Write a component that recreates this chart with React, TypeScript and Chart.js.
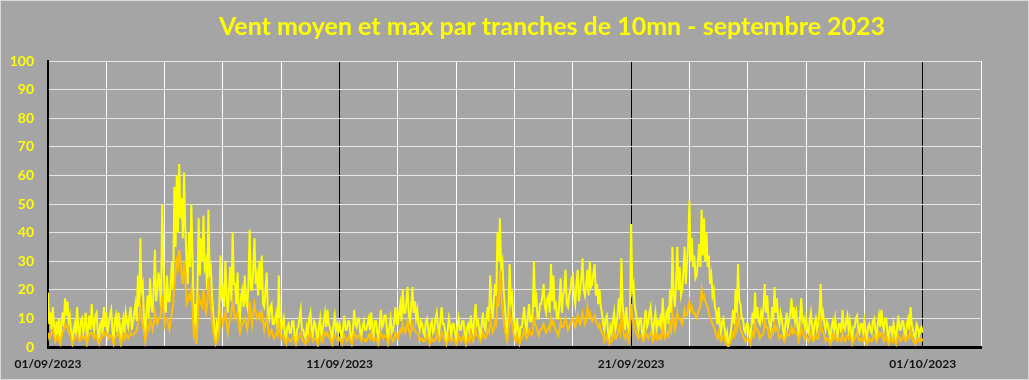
import React, { useEffect, useRef } from "react";
import { Chart, registerables } from "chart.js";

Chart.register(...registerables);

const TITLE = "Vent moyen et max par tranches de 10mn - septembre 2023";
const X_LABEL_DAYS = [0, 10, 20, 30];
const X_LABELS = ["01/09/2023", "11/09/2023", "21/09/2023", "01/10/2023"];
const SERIES_NAMES = ["Vent max", "Vent moyen"];
const STEP_HOURS = 1;

// Vent max (km/h), one value per hour, from 01/09 00h to 01/10 00h (one row per day)
const VENT_MAX = [
  19, 8, 12, 6, 14, 7, 4, 9, 3, 10, 1, 8, 12, 7, 17, 11, 16, 9, 11, 5, 2, 6, 8, 4,
  14, 6, 4, 9, 10, 5, 8, 12, 2, 7, 11, 6, 15, 8, 6, 11, 12, 5, 3, 8, 9, 4, 14, 7,
  12, 5, 8, 11, 13, 6, 3, 9, 11, 5, 12, 8, 2, 7, 10, 5, 12, 9, 7, 11, 14, 6, 9, 12,
  15, 9, 25, 14, 38, 20, 22, 10, 4, 12, 18, 10, 24, 15, 12, 20, 34, 16, 20, 26, 22, 14, 50, 30,
  18, 12, 25, 16, 16, 22, 30, 20, 56, 35, 60, 40, 64, 45, 52, 38, 61, 42, 30, 22, 40, 28, 50, 32,
  8, 15, 2, 20, 45, 25, 38, 30, 46, 28, 30, 20, 48, 26, 28, 18, 12, 6, 3, 8, 6, 14, 32, 18,
  20, 14, 30, 18, 12, 20, 28, 16, 40, 22, 22, 15, 26, 12, 10, 18, 20, 14, 25, 16, 14, 22, 41, 20,
  20, 28, 38, 22, 25, 18, 30, 20, 32, 15, 14, 20, 26, 12, 10, 14, 15, 8, 8, 10, 12, 6, 25, 8,
  6, 8, 10, 4, 3, 7, 8, 5, 5, 9, 9, 4, 2, 6, 7, 10, 13, 6, 6, 4, 3, 7, 5, 10,
  12, 6, 4, 9, 8, 5, 2, 7, 10, 4, 6, 9, 12, 7, 13, 8, 7, 5, 3, 8, 11, 6, 8, 5,
  8, 5, 3, 7, 11, 6, 6, 9, 9, 4, 2, 6, 13, 8, 7, 10, 10, 5, 4, 7, 9, 6, 6, 8,
  10, 6, 12, 7, 4, 9, 9, 5, 3, 8, 13, 7, 8, 11, 11, 6, 2, 7, 10, 5, 6, 9, 14, 8,
  8, 12, 15, 9, 20, 12, 12, 16, 21, 11, 9, 14, 21, 12, 16, 10, 13, 8, 6, 9, 8, 5, 4, 9,
  10, 6, 3, 8, 9, 5, 6, 10, 12, 7, 5, 9, 14, 8, 8, 5, 2, 6, 10, 7, 4, 8, 8, 5,
  3, 7, 10, 6, 6, 9, 9, 5, 2, 7, 8, 5, 11, 7, 5, 10, 15, 8, 9, 6, 4, 8, 12, 7,
  6, 10, 14, 9, 25, 15, 10, 16, 22, 18, 40, 30, 45, 28, 30, 20, 15, 8, 4, 12, 29, 16, 18, 10,
  8, 5, 10, 6, 3, 7, 7, 10, 14, 8, 6, 11, 15, 9, 9, 12, 30, 14, 17, 10, 10, 15, 15, 18,
  22, 14, 12, 17, 18, 12, 29, 16, 25, 14, 15, 10, 10, 16, 24, 12, 18, 20, 27, 15, 14, 18, 20, 24,
  25, 18, 15, 22, 27, 16, 20, 24, 31, 20, 18, 22, 27, 18, 30, 21, 22, 26, 29, 18, 22, 15, 20, 14,
  12, 8, 6, 10, 11, 5, 3, 7, 5, 9, 12, 6, 8, 12, 17, 10, 31, 15, 10, 6, 14, 8, 6, 10,
  43, 20, 22, 14, 12, 8, 6, 10, 10, 5, 4, 9, 13, 7, 8, 12, 14, 8, 5, 9, 12, 6, 9, 8,
  10, 6, 17, 9, 6, 12, 13, 8, 20, 12, 35, 18, 14, 22, 35, 20, 28, 18, 20, 26, 35, 22, 30, 36,
  51, 30, 38, 28, 32, 24, 25, 30, 36, 28, 48, 32, 45, 30, 40, 28, 32, 22, 25, 18, 20, 14, 12, 8,
  14, 8, 5, 9, 10, 6, 3, 5, 0, 3, 5, 9, 13, 8, 20, 12, 29, 16, 15, 10, 10, 6, 5, 8,
  8, 5, 3, 7, 12, 8, 19, 10, 14, 9, 8, 12, 10, 14, 22, 12, 18, 10, 8, 6, 14, 9, 21, 12,
  17, 10, 8, 12, 10, 6, 4, 8, 12, 7, 9, 12, 17, 10, 14, 9, 12, 7, 5, 10, 17, 9, 10, 7,
  10, 6, 5, 9, 12, 7, 4, 8, 10, 6, 8, 12, 22, 10, 12, 8, 6, 9, 8, 5, 3, 7, 9, 6,
  10, 6, 4, 8, 8, 5, 13, 7, 6, 9, 11, 6, 9, 5, 3, 7, 7, 10, 11, 6, 5, 8, 8, 5,
  9, 5, 3, 7, 8, 6, 5, 9, 10, 6, 4, 8, 11, 7, 13, 8, 6, 10, 10, 5, 3, 7, 7, 4,
  8, 5, 3, 7, 11, 6, 6, 9, 9, 5, 4, 8, 10, 6, 14, 8, 6, 4, 3, 8, 7, 4, 6, 7,
  5,
];

// Vent moyen (km/h), same time steps
const VENT_MOYEN = [
  5, 3, 4, 5, 6, 4, 2, 3, 4, 2, 1, 3, 5, 6, 8, 7, 7, 5, 5, 3, 1, 2, 3, 4,
  4, 3, 2, 3, 4, 3, 3, 4, 1, 3, 4, 5, 5, 4, 3, 4, 4, 2, 1, 3, 3, 4, 5, 4,
  5, 4, 3, 4, 4, 3, 1, 3, 4, 4, 5, 3, 1, 3, 4, 3, 5, 4, 3, 4, 5, 4, 4, 5,
  5, 6, 8, 10, 14, 10, 8, 5, 2, 5, 7, 6, 10, 8, 6, 8, 12, 9, 8, 10, 10, 12, 18, 14,
  8, 10, 10, 8, 6, 9, 12, 15, 22, 26, 30, 28, 34, 30, 25, 22, 30, 25, 15, 16, 18, 17, 20, 14,
  4, 6, 1, 8, 18, 16, 15, 14, 20, 16, 12, 15, 24, 18, 14, 10, 5, 3, 1, 2, 3, 6, 12, 10,
  8, 10, 12, 9, 5, 8, 10, 12, 16, 13, 10, 11, 12, 8, 5, 7, 8, 9, 10, 8, 6, 10, 16, 12,
  8, 12, 15, 12, 10, 11, 12, 10, 12, 9, 6, 8, 10, 7, 4, 5, 6, 4, 3, 4, 5, 4, 10, 5,
  3, 4, 4, 2, 1, 3, 3, 2, 2, 3, 4, 2, 1, 2, 3, 4, 5, 3, 2, 2, 1, 2, 2, 4,
  5, 3, 2, 3, 3, 2, 1, 3, 4, 3, 2, 4, 5, 4, 5, 4, 3, 2, 1, 3, 4, 3, 3, 2,
  3, 2, 1, 3, 4, 3, 2, 3, 4, 2, 1, 3, 5, 4, 3, 4, 4, 3, 2, 3, 3, 2, 2, 3,
  4, 3, 5, 3, 2, 3, 3, 2, 1, 3, 5, 4, 3, 4, 4, 3, 1, 3, 4, 3, 2, 3, 5, 4,
  3, 5, 6, 5, 8, 6, 5, 7, 9, 6, 4, 6, 8, 6, 6, 5, 5, 4, 2, 3, 3, 2, 2, 3,
  4, 3, 1, 2, 3, 2, 2, 3, 5, 3, 2, 3, 5, 4, 3, 2, 1, 2, 4, 3, 2, 3, 3, 2,
  1, 2, 4, 3, 2, 3, 4, 2, 1, 2, 3, 2, 5, 3, 2, 4, 6, 4, 4, 3, 2, 3, 5, 4,
  3, 4, 6, 5, 10, 7, 5, 6, 9, 8, 18, 14, 27, 18, 14, 10, 6, 4, 2, 5, 12, 9, 8, 5,
  3, 2, 4, 3, 1, 3, 3, 4, 6, 4, 3, 4, 6, 5, 4, 5, 10, 8, 7, 5, 4, 6, 6, 7,
  8, 6, 5, 6, 7, 6, 10, 8, 9, 7, 6, 5, 4, 6, 9, 7, 7, 8, 10, 8, 6, 7, 8, 9,
  10, 8, 7, 9, 11, 9, 8, 10, 12, 10, 8, 9, 14, 11, 12, 10, 9, 10, 11, 9, 8, 7, 8, 6,
  5, 4, 2, 3, 4, 2, 1, 2, 2, 3, 5, 3, 3, 5, 7, 5, 12, 8, 4, 3, 5, 4, 2, 4,
  15, 10, 9, 6, 5, 4, 3, 4, 4, 3, 2, 3, 5, 4, 3, 4, 5, 4, 2, 3, 5, 3, 4, 3,
  4, 3, 7, 5, 3, 4, 5, 4, 8, 6, 12, 9, 6, 8, 12, 10, 10, 9, 8, 10, 13, 11, 11, 14,
  16, 13, 14, 12, 12, 11, 10, 12, 13, 14, 20, 17, 18, 16, 15, 14, 12, 10, 9, 8, 7, 6, 4, 3,
  5, 3, 2, 3, 4, 3, 1, 1, 0, 1, 2, 3, 5, 4, 8, 6, 12, 8, 6, 5, 4, 3, 2, 3,
  3, 2, 1, 3, 5, 4, 8, 6, 6, 5, 3, 4, 4, 5, 9, 7, 7, 5, 3, 3, 6, 5, 8, 6,
  7, 5, 3, 4, 4, 3, 2, 3, 5, 4, 4, 5, 7, 5, 6, 5, 5, 4, 2, 4, 7, 5, 4, 3,
  4, 3, 2, 3, 5, 3, 2, 3, 4, 3, 3, 5, 9, 6, 5, 4, 2, 3, 3, 2, 1, 2, 4, 3,
  4, 3, 2, 3, 3, 2, 5, 3, 2, 3, 4, 3, 4, 3, 1, 2, 3, 4, 5, 3, 2, 3, 3, 2,
  4, 2, 1, 2, 3, 2, 2, 3, 4, 3, 2, 3, 5, 4, 5, 4, 2, 3, 4, 2, 1, 2, 3, 2,
  3, 2, 1, 3, 4, 3, 2, 3, 4, 3, 2, 3, 4, 3, 6, 4, 2, 2, 1, 2, 3, 2, 2, 3,
  2,
];

const W = 1029;
const H = 380;

const toPoints = (arr: number[]) =>
  arr.map((v, i) => ({ x: (i * STEP_HOURS) / 24, y: v }));

const frame = {
  id: "frame",
  beforeDraw(chart: any) {
    const { ctx, width, height } = chart;
    ctx.save();
    ctx.fillStyle = "#a5a5a5";
    ctx.fillRect(0, 0, width, height);
    ctx.strokeStyle = "#d9d9d9";
    ctx.lineWidth = 1;
    ctx.strokeRect(0.5, 0.5, width - 1, height - 1);
    ctx.fillStyle = "#ffff00";
    ctx.font = "bold 25px Lato";
    ctx.textAlign = "center";
    ctx.textBaseline = "alphabetic";
    ctx.fillText(TITLE, 552, 35);
    ctx.restore();
  },
};

export default function App() {
  const ref = useRef<HTMLCanvasElement | null>(null);

  useEffect(() => {
    if (!ref.current) return;
    const chart = new Chart(ref.current, {
      type: "line",
      data: {
        datasets: [
          {
            label: SERIES_NAMES[1],
            data: toPoints(VENT_MOYEN),
            borderColor: "#ffc000",
            backgroundColor: "#ffc000",
            borderWidth: 2,
            pointRadius: 0,
            tension: 0,
            order: 0,
          },
          {
            label: SERIES_NAMES[0],
            data: toPoints(VENT_MAX),
            borderColor: "#ffff00",
            backgroundColor: "#ffff00",
            borderWidth: 2,
            pointRadius: 0,
            tension: 0,
            order: 1,
          },
        ],
      },
      options: {
        animation: false,
        responsive: false,
        maintainAspectRatio: false,
        layout: { padding: { top: 61, right: 48, left: 0, bottom: 0 } },
        plugins: {
          legend: { display: false },
          title: { display: false },
          tooltip: { enabled: false },
        },
        scales: {
          x: {
            type: "linear",
            min: 0,
            max: 32,
            afterFit: (s: any) => {
              s.height = 33;
            },
            border: { display: true, color: "#000000", width: 3 },
            grid: {
              color: (c: any) =>
                c.tick && c.tick.value % 10 === 0 ? "#000000" : "#ffffff",
              lineWidth: 1,
              drawTicks: false,
            },
            ticks: {
              stepSize: 2,
              autoSkip: false,
              maxRotation: 0,
              padding: 10,
              color: "#111111",
              font: { family: "Lato", weight: "bold", size: 12 },
              callback: (v: any) => {
                const k = X_LABEL_DAYS.indexOf(Number(v));
                return k >= 0 ? X_LABELS[k] : "";
              },
            },
          },
          y: {
            min: 0,
            max: 100,
            afterFit: (s: any) => {
              s.width = 48;
            },
            border: { display: true, color: "#000000", width: 2 },
            grid: { color: "#e6e6e6", lineWidth: 1, drawTicks: false },
            ticks: {
              stepSize: 10,
              padding: 14,
              color: "#ffff00",
              font: { family: "Lato", weight: "bold", size: 14 },
            },
          },
        },
      },
      plugins: [frame],
    });
    return () => chart.destroy();
  }, []);

  return (
    <div style={{ position: "absolute", left: 0, top: 0, width: W, height: H }}>
      <canvas ref={ref} width={W} height={H} style={{ display: "block" }} />
    </div>
  );
}
